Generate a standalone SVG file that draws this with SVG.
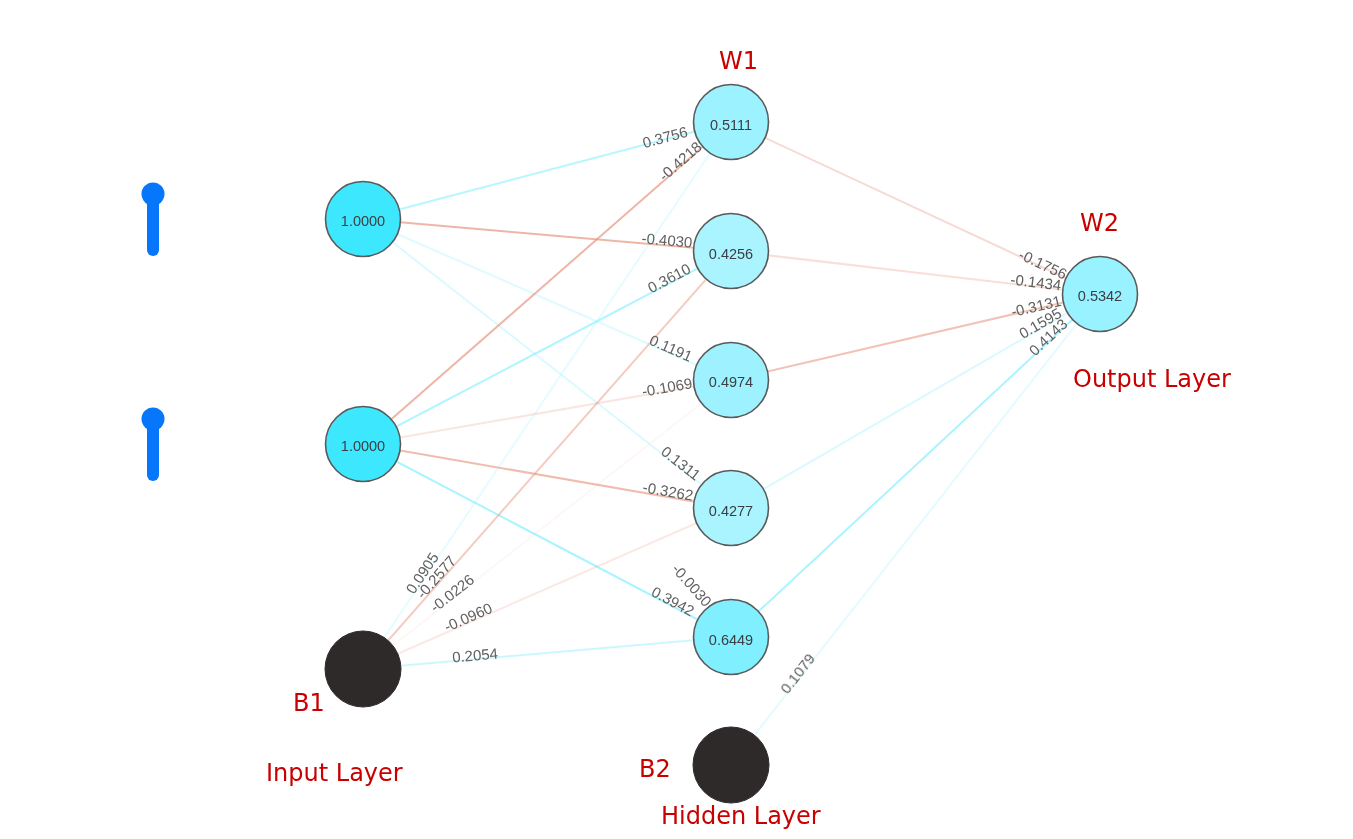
<svg xmlns="http://www.w3.org/2000/svg" width="1353" height="839" viewBox="0 0 1353 839">
<defs><filter id="soft" x="-5%" y="-5%" width="110%" height="110%"><feGaussianBlur stdDeviation="0.55"/></filter></defs>
<style>
.e{fill:none;stroke-width:2}
.p{stroke:#7eeeff}
.n{stroke:#e58f78}
.w{font:15px "Liberation Sans",Arial,sans-serif;fill:#606060;text-anchor:middle;dominant-baseline:central}
.v{font:14.5px "Liberation Sans",Arial,sans-serif;fill:#3a3f44;text-anchor:middle;dominant-baseline:central}
.l{font:24px "DejaVu Sans",sans-serif;fill:#c80000}
.c{stroke:#5a5a5a;stroke-width:1.6}
.b{fill:#2f2a2c;stroke:#2f2a2c;stroke-width:1}
.s{stroke:#0676fb;stroke-width:12;stroke-linecap:round}
.k{fill:#0676fb}
</style>
<rect width="1353" height="839" fill="#fff"/>
<g id="connectors" filter="url(#soft)">
<line class="e p" stroke-opacity=".55" x1="363" y1="219" x2="731" y2="122"/>
<line class="e n" stroke-opacity=".65" x1="363" y1="219" x2="731" y2="251"/>
<line class="e p" stroke-opacity=".25" x1="363" y1="219" x2="731" y2="380"/>
<line class="e p" stroke-opacity=".28" x1="363" y1="219" x2="731" y2="508"/>
<line class="e n" stroke-opacity=".01" x1="363" y1="219" x2="731" y2="637"/>
<line class="e n" stroke-opacity=".65" x1="363" y1="444" x2="731" y2="122"/>
<line class="e p" stroke-opacity=".6" x1="363" y1="444" x2="731" y2="251"/>
<line class="e n" stroke-opacity=".22" x1="363" y1="444" x2="731" y2="380"/>
<line class="e n" stroke-opacity=".6" x1="363" y1="444" x2="731" y2="508"/>
<line class="e p" stroke-opacity=".65" x1="363" y1="444" x2="731" y2="637"/>
<line class="e p" stroke-opacity=".2" x1="363" y1="669" x2="731" y2="122"/>
<line class="e n" stroke-opacity=".45" x1="363" y1="669" x2="731" y2="251"/>
<line class="e n" stroke-opacity=".06" x1="363" y1="669" x2="731" y2="380"/>
<line class="e n" stroke-opacity=".2" x1="363" y1="669" x2="731" y2="508"/>
<line class="e p" stroke-opacity=".4" x1="363" y1="669" x2="731" y2="637"/>
<line class="e n" stroke-opacity=".33" x1="731" y1="122" x2="1100" y2="294"/>
<line class="e n" stroke-opacity=".28" x1="731" y1="251" x2="1100" y2="294"/>
<line class="e n" stroke-opacity=".55" x1="731" y1="380" x2="1100" y2="294"/>
<line class="e p" stroke-opacity=".3" x1="731" y1="508" x2="1100" y2="294"/>
<line class="e p" stroke-opacity=".65" x1="731" y1="637" x2="1100" y2="294"/>
<line class="e p" stroke-opacity=".22" x1="731" y1="765" x2="1100" y2="294"/>
</g>
<g id="connector-labels" filter="url(#soft)">
<text class="w" transform="translate(665 137) rotate(-14.8)">0.3756</text>
<text class="w" transform="translate(680 161) rotate(-41.2)">-0.4218</text>
<text class="w" transform="translate(667 240) rotate(5)">-0.4030</text>
<text class="w" transform="translate(669 278) rotate(-27.7)">0.3610</text>
<text class="w" transform="translate(671 348) rotate(23.6)">0.1191</text>
<text class="w" transform="translate(667 387) rotate(-9.9)">-0.1069</text>
<text class="w" transform="translate(681 463) rotate(38)">0.1311</text>
<text class="w" transform="translate(668 491) rotate(9.9)">-0.3262</text>
<text class="w" transform="translate(692 585) rotate(48.6)">-0.0030</text>
<text class="w" transform="translate(673 601) rotate(27.7)">0.3942</text>
<text class="w" transform="translate(422 573) rotate(-56)">0.0905</text>
<text class="w" transform="translate(436 577) rotate(-48.6)">-0.2577</text>
<text class="w" transform="translate(452 593) rotate(-38)">-0.0226</text>
<text class="w" transform="translate(468 617) rotate(-23.6)">-0.0960</text>
<text class="w" transform="translate(475 655) rotate(-5)">0.2054</text>
<text class="w" transform="translate(1043 264) rotate(25)">-0.1756</text>
<text class="w" transform="translate(1036 282) rotate(6.6)">-0.1434</text>
<text class="w" transform="translate(1036 306) rotate(-13)">-0.3131</text>
<text class="w" transform="translate(1040 323) rotate(-30)">0.1595</text>
<text class="w" transform="translate(1048 337) rotate(-43)">0.4143</text>
<text class="w" transform="translate(797 673) rotate(-52)">0.1079</text>
</g>
<g id="slider-1"><line class="s" x1="153" y1="194" x2="153" y2="250"/><circle class="k" cx="153" cy="194" r="11.5"/></g>
<g id="slider-2"><line class="s" x1="153" y1="419" x2="153" y2="475"/><circle class="k" cx="153" cy="419" r="11.5"/></g>
<g id="input-1" filter="url(#soft)"><circle class="c" cx="363" cy="219" r="37.5" fill="#3ce8ff"/><text class="v" x="363" y="221">1.0000</text></g>
<g id="input-2" filter="url(#soft)"><circle class="c" cx="363" cy="444" r="37.5" fill="#3ce8ff"/><text class="v" x="363" y="446">1.0000</text></g>
<g id="bias-1" filter="url(#soft)"><circle class="b" cx="363" cy="669" r="38"/></g>
<g id="hidden-1" filter="url(#soft)"><circle class="c" cx="731" cy="122" r="37.5" fill="#9cf2ff"/><text class="v" x="731" y="125">0.5111</text></g>
<g id="hidden-2" filter="url(#soft)"><circle class="c" cx="731" cy="251" r="37.5" fill="#a9f4ff"/><text class="v" x="731" y="254">0.4256</text></g>
<g id="hidden-3" filter="url(#soft)"><circle class="c" cx="731" cy="380" r="37.5" fill="#9ef2ff"/><text class="v" x="731" y="382">0.4974</text></g>
<g id="hidden-4" filter="url(#soft)"><circle class="c" cx="731" cy="508" r="37.5" fill="#a9f4ff"/><text class="v" x="731" y="511">0.4277</text></g>
<g id="hidden-5" filter="url(#soft)"><circle class="c" cx="731" cy="637" r="37.5" fill="#80efff"/><text class="v" x="731" y="640">0.6449</text></g>
<g id="bias-2" filter="url(#soft)"><circle class="b" cx="731" cy="765" r="38"/></g>
<g id="output-1" filter="url(#soft)"><circle class="c" cx="1100" cy="294" r="37.5" fill="#98f2ff"/><text class="v" x="1100" y="296">0.5342</text></g>
<g id="labels">
<text class="l" x="719" y="69">W1</text>
<text class="l" x="1080" y="231">W2</text>
<text class="l" x="1073" y="387">Output Layer</text>
<text class="l" x="293" y="711">B1</text>
<text class="l" x="639" y="777">B2</text>
<text class="l" x="266" y="781">Input Layer</text>
<text class="l" x="661" y="824">Hidden Layer</text>
</g>
</svg>
